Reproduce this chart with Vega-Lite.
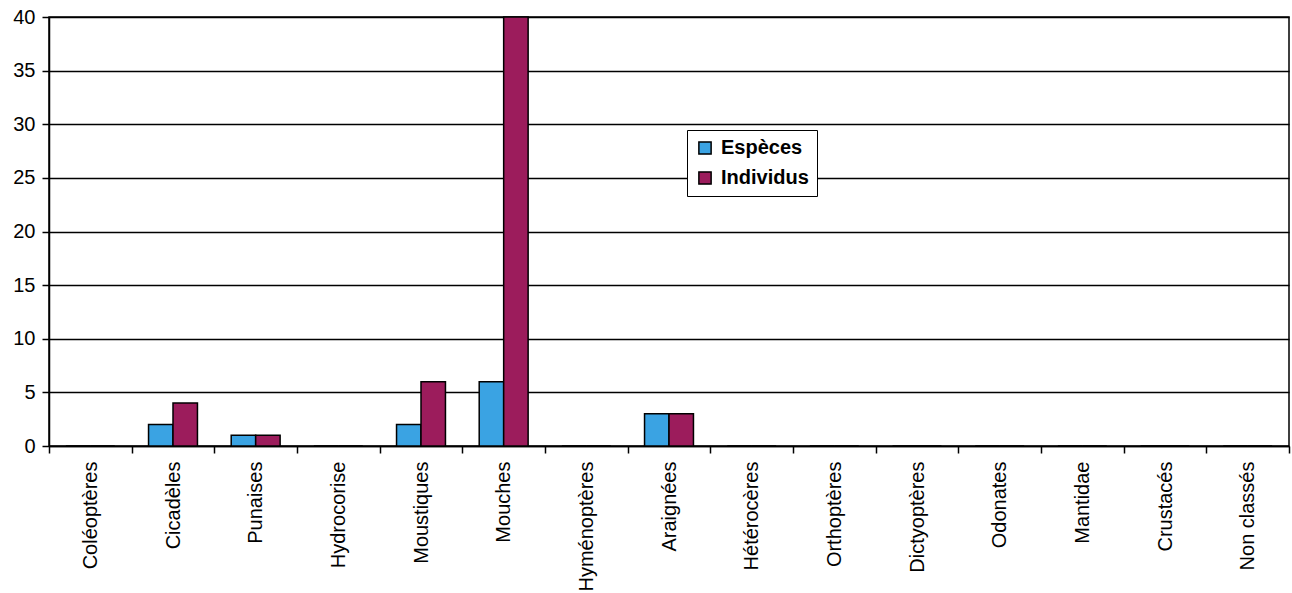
{
  "$schema": "https://vega.github.io/schema/vega-lite/v6.json",
  "autosize": "none",
  "width": 1240,
  "height": 429,
  "padding": {"left": 49, "top": 17, "right": 3, "bottom": 147},
  "background": "white",
  "config": {
    "font": "Liberation Sans",
    "view": {"stroke": "black", "strokeWidth": 1.5}
  },
  "data": {
    "values": [
      {"groupe": "Coléoptères", "serie": "Espèces", "valeur": 0},
      {"groupe": "Coléoptères", "serie": "Individus", "valeur": 0},
      {"groupe": "Cicadèles", "serie": "Espèces", "valeur": 2},
      {"groupe": "Cicadèles", "serie": "Individus", "valeur": 4},
      {"groupe": "Punaises", "serie": "Espèces", "valeur": 1},
      {"groupe": "Punaises", "serie": "Individus", "valeur": 1},
      {"groupe": "Hydrocorise", "serie": "Espèces", "valeur": 0},
      {"groupe": "Hydrocorise", "serie": "Individus", "valeur": 0},
      {"groupe": "Moustiques", "serie": "Espèces", "valeur": 2},
      {"groupe": "Moustiques", "serie": "Individus", "valeur": 6},
      {"groupe": "Mouches", "serie": "Espèces", "valeur": 6},
      {"groupe": "Mouches", "serie": "Individus", "valeur": 40},
      {"groupe": "Hyménoptères", "serie": "Espèces", "valeur": 0},
      {"groupe": "Hyménoptères", "serie": "Individus", "valeur": 0},
      {"groupe": "Araignées", "serie": "Espèces", "valeur": 3},
      {"groupe": "Araignées", "serie": "Individus", "valeur": 3},
      {"groupe": "Hétérocères", "serie": "Espèces", "valeur": 0},
      {"groupe": "Hétérocères", "serie": "Individus", "valeur": 0},
      {"groupe": "Orthoptères", "serie": "Espèces", "valeur": 0},
      {"groupe": "Orthoptères", "serie": "Individus", "valeur": 0},
      {"groupe": "Dictyoptères", "serie": "Espèces", "valeur": 0},
      {"groupe": "Dictyoptères", "serie": "Individus", "valeur": 0},
      {"groupe": "Odonates", "serie": "Espèces", "valeur": 0},
      {"groupe": "Odonates", "serie": "Individus", "valeur": 0},
      {"groupe": "Mantidae", "serie": "Espèces", "valeur": 0},
      {"groupe": "Mantidae", "serie": "Individus", "valeur": 0},
      {"groupe": "Crustacés", "serie": "Espèces", "valeur": 0},
      {"groupe": "Crustacés", "serie": "Individus", "valeur": 0},
      {"groupe": "Non classés", "serie": "Espèces", "valeur": 0},
      {"groupe": "Non classés", "serie": "Individus", "valeur": 0}
    ]
  },
  "mark": {"type": "bar", "stroke": "black", "strokeWidth": 1.5},
  "encoding": {
    "x": {
      "field": "groupe",
      "type": "nominal",
      "sort": null,
      "scale": {"paddingInner": 0, "paddingOuter": 0},
      "axis": {
        "title": null,
        "labelAngle": -90,
        "labelAlign": "right",
        "labelBaseline": "middle",
        "labelFontSize": 20,
        "labelColor": "black",
        "labelPadding": 8,
        "labelLimit": 200,
        "tickBand": "extent",
        "tickColor": "black",
        "tickSize": 7,
        "tickWidth": 1.5,
        "domainColor": "black",
        "domainWidth": 1.5
      }
    },
    "xOffset": {
      "field": "serie",
      "type": "nominal",
      "scale": {"paddingInner": 0, "paddingOuter": 0.69}
    },
    "y": {
      "field": "valeur",
      "type": "quantitative",
      "scale": {"domain": [0, 40], "nice": false},
      "axis": {
        "title": null,
        "values": [0, 5, 10, 15, 20, 25, 30, 35, 40],
        "labelFontSize": 20,
        "labelColor": "black",
        "labelPadding": 7,
        "tickColor": "black",
        "tickSize": 7,
        "tickWidth": 1.5,
        "domainColor": "black",
        "domainWidth": 1.5,
        "gridColor": "black",
        "gridWidth": 1.5,
        "gridOpacity": 1
      }
    },
    "color": {
      "field": "serie",
      "type": "nominal",
      "scale": {"domain": ["Espèces", "Individus"], "range": ["#3aa3e3", "#9c1c5c"]},
      "legend": {
        "title": null,
        "orient": "none",
        "legendX": 638,
        "legendY": 113,
        "direction": "vertical",
        "symbolType": "square",
        "symbolSize": 150,
        "symbolStrokeColor": "black",
        "symbolStrokeWidth": 1.5,
        "labelFontSize": 20,
        "labelFontWeight": "bold",
        "labelColor": "black",
        "labelOffset": 6,
        "rowPadding": 10,
        "padding": 8,
        "fillColor": "white",
        "strokeColor": "black"
      }
    }
  }
}
